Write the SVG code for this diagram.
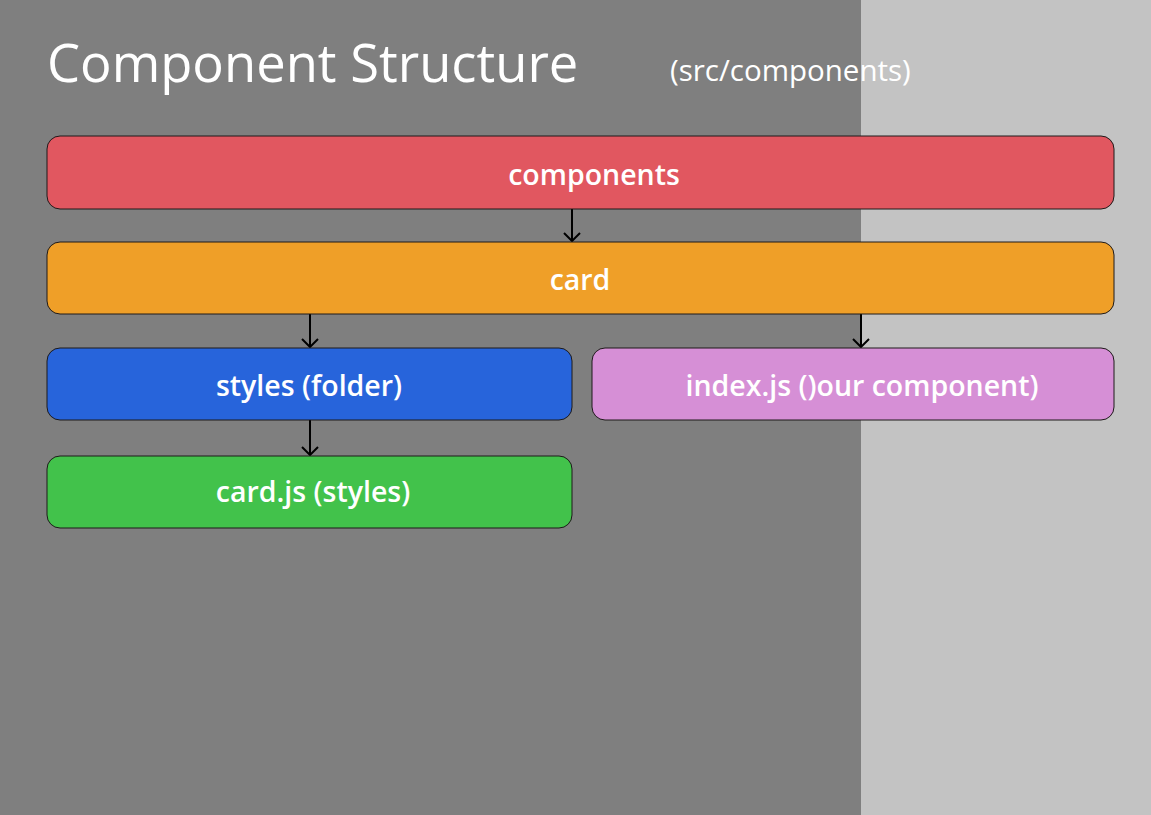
<svg xmlns="http://www.w3.org/2000/svg" width="1151" height="815" viewBox="0 0 1151 815">
  <style>
    .node rect { stroke: #1e1a1a; stroke-width: 1; }
    .label { font-family: "Open Sans", "Noto Sans", sans-serif; font-weight: 600; font-size: 28.5px; fill: #ffffff; text-anchor: middle; }
    .title { font-family: "Open Sans", "Noto Sans", sans-serif; fill: #ffffff; }
    .edge { stroke: #000000; stroke-width: 2; fill: none; marker-end: url(#chevron); }
  </style>
  <defs>
    <!-- open chevron, drawn along +x so orient="auto" turns it with the line -->
    <marker id="chevron" viewBox="0 0 10 18" refX="9" refY="9" markerWidth="10" markerHeight="18" markerUnits="userSpaceOnUse" orient="auto">
      <path d="M1 1 L9 9 L1 17" fill="none" stroke="#000000" stroke-width="2"/>
    </marker>
  </defs>

  <!-- backdrop -->
  <rect x="0" y="0" width="861" height="815" fill="#7f7f7f"/>
  <rect x="861" y="0" width="290" height="815" fill="#c3c3c3"/>

  <!-- heading -->
  <text class="title" x="47" y="82" font-size="52.5">Component Structure</text>
  <text class="title" x="670" y="81" font-size="29.5">(src/components)</text>

  <!-- connectors -->
  <g id="connectors">
    <path class="edge" d="M572 209 V241"/>
    <path class="edge" d="M310 314 V347"/>
    <path class="edge" d="M861 314 V347"/>
    <path class="edge" d="M310 420 V455"/>
  </g>

  <g id="node-components" class="node">
    <rect x="47" y="136" width="1067" height="73" rx="13" fill="#e15760"/>
    <text class="label" x="594" y="185">components</text>
  </g>
  <g id="node-card" class="node">
    <rect x="47" y="242" width="1067" height="72" rx="13" fill="#ef9f28"/>
    <text class="label" x="580" y="290">card</text>
  </g>
  <g id="node-styles" class="node">
    <rect x="47" y="348" width="525" height="72" rx="13" fill="#2764db"/>
    <text class="label" x="309" y="396">styles (folder)</text>
  </g>
  <g id="node-index" class="node">
    <rect x="592" y="348" width="522" height="72" rx="13" fill="#d68fd6"/>
    <text class="label" x="862" y="396">index.js ()our component)</text>
  </g>
  <g id="node-cardjs" class="node">
    <rect x="47" y="456" width="525" height="72" rx="13" fill="#42c24b"/>
    <text class="label" x="313" y="502">card.js (styles)</text>
  </g>
</svg>
